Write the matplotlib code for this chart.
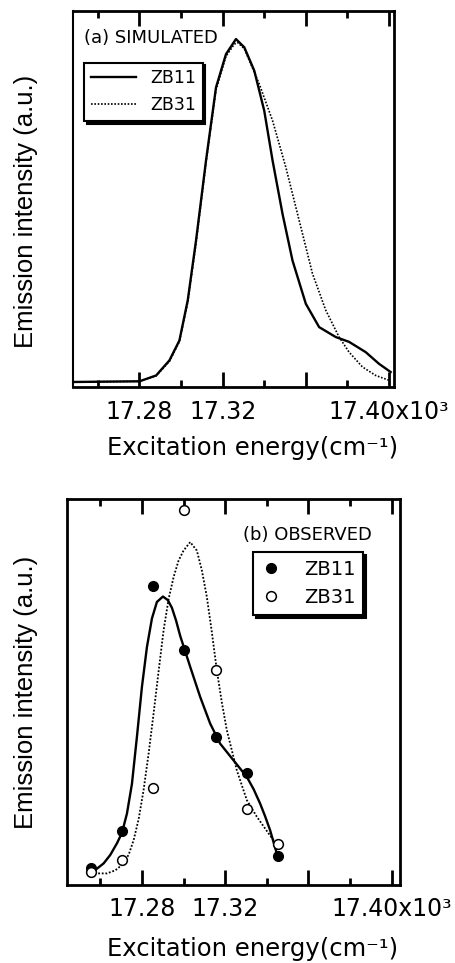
import matplotlib
matplotlib.use("Agg")
import matplotlib.pyplot as plt
from matplotlib.ticker import FixedLocator

# (a) simulated spectra, x in 10^3 cm^-1, intensity normalised to the ZB11 peak
sim_x_zb11 = [17.248, 17.280, 17.288, 17.2944, 17.2992, 17.3032, 17.3072, 17.312,
              17.3168, 17.3216, 17.3264, 17.3304, 17.3352, 17.340, 17.344, 17.3488,
              17.3536, 17.360, 17.3664, 17.3744, 17.3808, 17.3888, 17.3952, 17.4008]
sim_y_zb11 = [0.0, 0.002, 0.019, 0.063, 0.121, 0.238, 0.413, 0.646,
              0.859, 0.956, 1.0, 0.976, 0.908, 0.791, 0.646, 0.49,
              0.354, 0.228, 0.160, 0.131, 0.117, 0.087, 0.053, 0.029]
sim_x_zb31 = [17.248, 17.280, 17.288, 17.2944, 17.2992, 17.3032, 17.3072, 17.312,
              17.3168, 17.3216, 17.3256, 17.3272, 17.3304, 17.3376, 17.344, 17.3504,
              17.3568, 17.3632, 17.3696, 17.376, 17.3808, 17.3872, 17.3936, 17.400]
sim_y_zb31 = [0.0, 0.002, 0.018, 0.060, 0.118, 0.232, 0.405, 0.640,
              0.852, 0.950, 0.985, 0.990, 0.972, 0.869, 0.762, 0.626,
              0.471, 0.316, 0.209, 0.131, 0.087, 0.044, 0.019, 0.005]

# (b) observed points
obs_x = [17.2555, 17.2704, 17.2853, 17.3003, 17.3154, 17.3307, 17.3456]
obs_zb11 = [0.043, 0.141, 0.773, 0.609, 0.384, 0.289, 0.075]
obs_zb31 = [0.034, 0.065, 0.250, 0.972, 0.556, 0.196, 0.106]

# (b) guide curves
fit_x_zb11 = [17.2555, 17.2616, 17.2648, 17.268, 17.2704, 17.2728, 17.2752, 17.2776,
              17.28, 17.2824, 17.2848, 17.2872, 17.2901, 17.2924, 17.2944, 17.2964,
              17.2984, 17.3032, 17.308, 17.3128, 17.3176, 17.324, 17.3304, 17.3336,
              17.3368, 17.3392, 17.3416, 17.3448]
fit_y_zb11 = [0.030, 0.056, 0.078, 0.108, 0.135, 0.185, 0.262, 0.384,
              0.513, 0.616, 0.690, 0.733, 0.747, 0.738, 0.718, 0.685,
              0.645, 0.565, 0.487, 0.418, 0.366, 0.323, 0.280, 0.249,
              0.211, 0.178, 0.142, 0.082]
fit_x_zb31 = [17.2555, 17.2632, 17.2672, 17.2704, 17.2736, 17.276, 17.2784, 17.2808,
              17.2832, 17.2856, 17.288, 17.2904, 17.2928, 17.2952, 17.2976, 17.300,
              17.3032, 17.3064, 17.3088, 17.3112, 17.3136, 17.316, 17.3184, 17.3208,
              17.3256, 17.3304, 17.3352, 17.3408, 17.3456]
fit_y_zb31 = [0.030, 0.030, 0.038, 0.052, 0.078, 0.116, 0.170, 0.246,
              0.340, 0.444, 0.553, 0.659, 0.740, 0.797, 0.840, 0.866,
              0.888, 0.866, 0.815, 0.746, 0.655, 0.556, 0.473, 0.401,
              0.297, 0.220, 0.177, 0.134, 0.099]

major_ticks = [17.28, 17.32, 17.36, 17.40]
major_labels = ["17.28", "17.32", "", "17.40x10\u00b3"]
minor_ticks = [17.26, 17.30, 17.34, 17.38]

plt.rcParams["font.family"] = "DejaVu Sans"

fig = plt.figure(figsize=(4.56, 9.63), dpi=100)
ax1 = fig.add_axes([0.160, 0.598, 0.704, 0.391])
ax2 = fig.add_axes([0.147, 0.081, 0.730, 0.401])


def style_axis(ax, x0, x1, ylab_x, ylab_y, xlab_y):
    ax.set_xlim(x0, x1)
    ax.set_yticks([])
    ax.xaxis.set_major_locator(FixedLocator(major_ticks))
    ax.xaxis.set_minor_locator(FixedLocator(minor_ticks))
    ax.set_xticklabels(major_labels)
    ax.tick_params(axis="x", which="both", direction="in", top=True,
                   labelsize=17, pad=9, width=2)
    ax.tick_params(axis="x", which="major", length=11)
    ax.tick_params(axis="x", which="minor", length=5)
    for s in ax.spines.values():
        s.set_linewidth(2)
    ax.set_ylabel("Emission intensity (a.u.)", family="Liberation Sans", fontsize=18.5)
    ax.yaxis.set_label_coords(ylab_x, ylab_y)
    ax.set_xlabel("Excitation energy(cm\u207b\u00b9)", fontsize=17.5)
    ax.xaxis.set_label_coords(0.558, xlab_y)


# panel (a)
ax1.plot(sim_x_zb11, sim_y_zb11, "k-", lw=1.7, label="ZB11")
ax1.plot(sim_x_zb31, sim_y_zb31, color="k", ls=(0, (1, 1)), lw=1.2, label="ZB31")
ax1.set_ylim(-0.015, 1.083)
style_axis(ax1, 17.248, 17.4024, -0.109, 0.468, -0.130)
ax1.spines["left"].set_linewidth(1.5)
ax1.text(0.034, 0.926, "(a) SIMULATED", transform=ax1.transAxes,
         fontsize=13, va="center", ha="left")
leg1 = ax1.legend(loc="upper left", bbox_to_anchor=(0.034, 0.862), fontsize=12.5,
                  frameon=True, fancybox=False, handlelength=2.6, borderaxespad=0,
                  shadow={"color": "k", "alpha": 1})
leg1.get_frame().set_edgecolor("k")
leg1.get_frame().set_linewidth(1.5)

# panel (b)
ax2.plot(fit_x_zb11, fit_y_zb11, "k-", lw=1.7)
ax2.plot(fit_x_zb31, fit_y_zb31, color="k", ls=(0, (1, 1)), lw=1.3)
ax2.plot(obs_x, obs_zb11, "o", color="k", ms=7, label="ZB11", clip_on=False)
ax2.plot(obs_x, obs_zb31, "o", mfc="white", mec="k", mew=1.1, ms=7, label="ZB31",
         clip_on=False)
ax2.set_ylim(0, 1)
style_axis(ax2, 17.244, 17.404, -0.087, 0.5, -0.135)
ax2.text(0.916, 0.907, "(b) OBSERVED", transform=ax2.transAxes,
         fontsize=13, va="center", ha="right")
leg2 = ax2.legend(loc="upper left", bbox_to_anchor=(0.559, 0.863), fontsize=14,
                  frameon=True, fancybox=False, handlelength=1.0, handletextpad=1.2,
                  borderaxespad=0, shadow={"color": "k", "alpha": 1})
leg2.get_frame().set_edgecolor("k")
leg2.get_frame().set_linewidth(1.5)

fig.savefig("out.png", dpi=100)
